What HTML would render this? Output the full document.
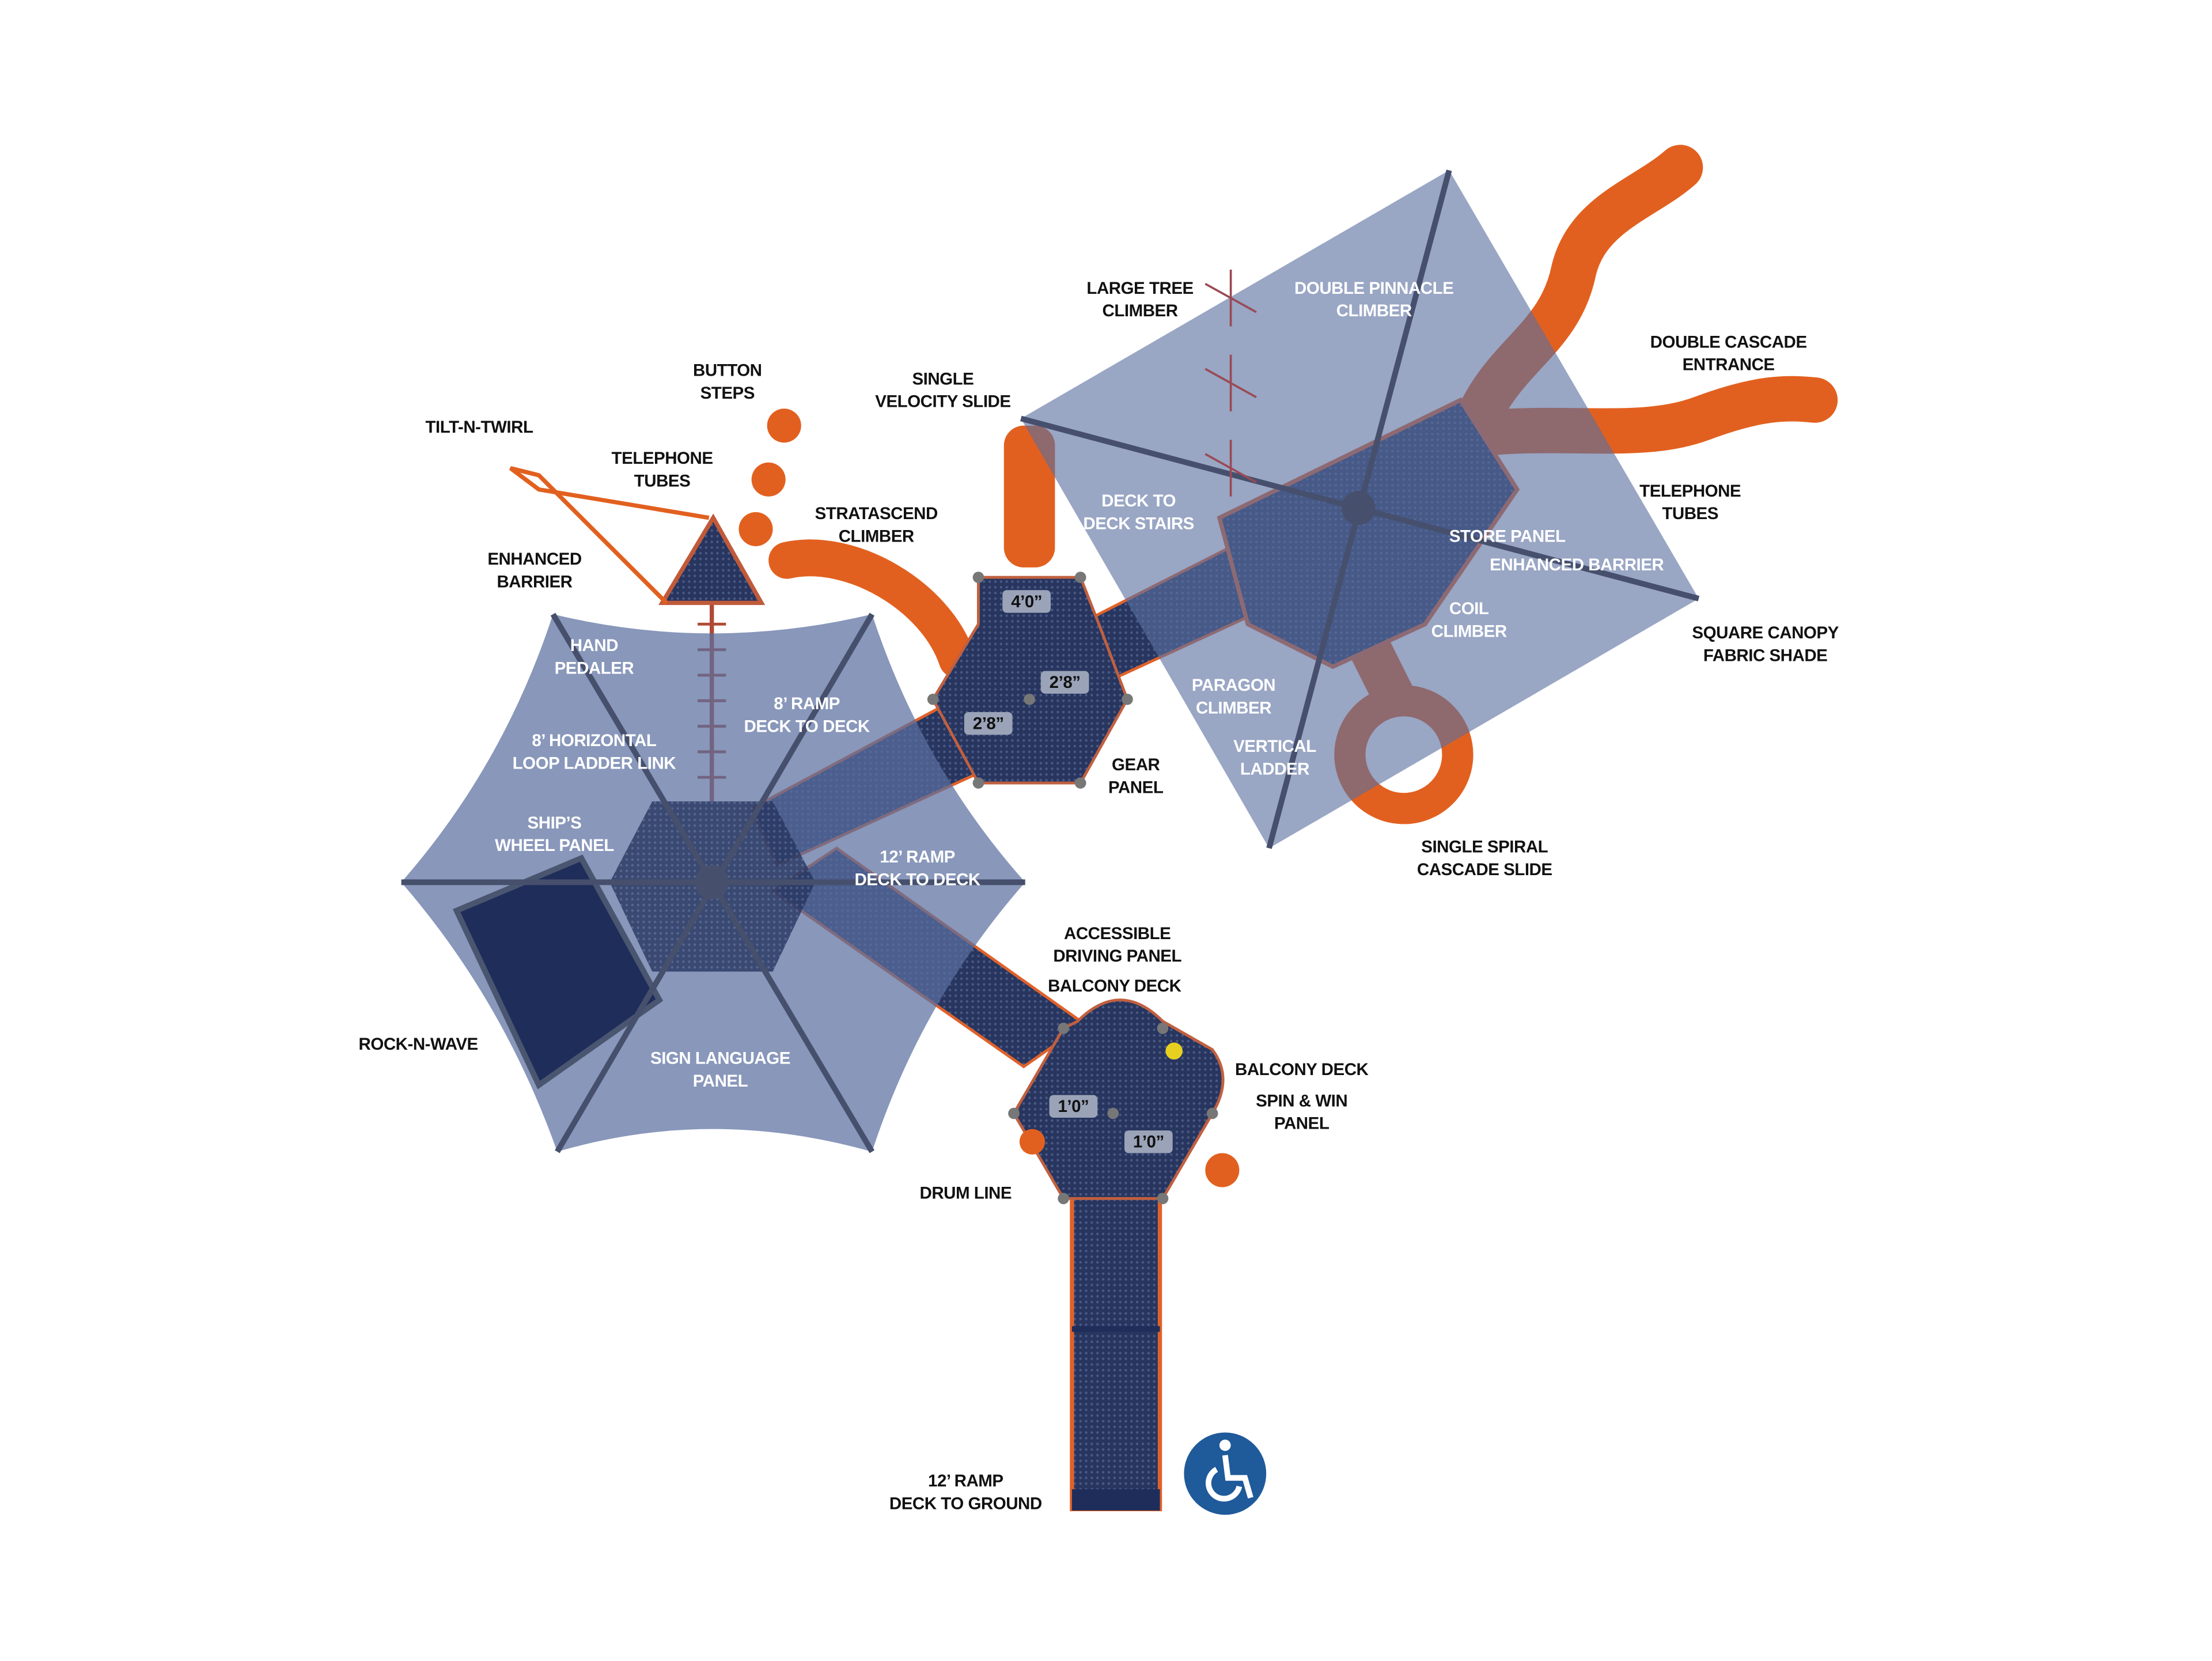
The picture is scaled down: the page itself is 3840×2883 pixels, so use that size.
<!DOCTYPE html>
<html><head><meta charset="utf-8"><style>
html,body{margin:0;padding:0;background:#fff;}
svg{display:block;}
text{font-family:"Liberation Sans",sans-serif;font-weight:bold;font-size:12px;text-anchor:middle;letter-spacing:-0.2px;}
.b{fill:#111;} .w{fill:#fff;}
</style></head><body>
<svg width="3840" height="2883" viewBox="0 0 1560 1171" xmlns="http://www.w3.org/2000/svg">
<defs>
<pattern id="dots" width="4" height="4" patternUnits="userSpaceOnUse"><rect width="4" height="4" fill="#27355f"/><circle cx="2" cy="2" r="0.9" fill="#4a5a85"/></pattern>
</defs>
<rect width="1560" height="1171" fill="#fff"/>

<!-- ramp to ground -->
<rect x="756" y="842" width="62" height="222" fill="url(#dots)" stroke="#e0622a" stroke-width="3"/>
<rect x="756" y="935" width="62" height="4" fill="#1f2d5a"/>
<rect x="756" y="1050" width="62" height="15" fill="#1f2d5a"/>
<!-- 12' ramp deck to deck (lower) -->
<polygon points="545,628 590,598 765,722 722,752" fill="url(#dots)" stroke="#e0622a" stroke-width="2"/>
<!-- 8' ramp -->
<polygon points="530,570 670,495 690,545 548,610" fill="url(#dots)" stroke="#e0622a" stroke-width="2"/>
<!-- deck to deck stairs -->
<polygon points="765,438 875,382 895,428 782,480" fill="url(#dots)" stroke="#e0622a" stroke-width="2"/>
<!-- ladder link -->
<line x1="502" y1="420" x2="502" y2="565" stroke="#b04a35" stroke-width="3"/>
<g stroke="#b04a35" stroke-width="2">
<line x1="492" y1="440" x2="512" y2="440"/><line x1="492" y1="458" x2="512" y2="458"/><line x1="492" y1="476" x2="512" y2="476"/><line x1="492" y1="494" x2="512" y2="494"/><line x1="492" y1="512" x2="512" y2="512"/><line x1="492" y1="530" x2="512" y2="530"/><line x1="492" y1="548" x2="512" y2="548"/></g>

<!-- slides -->
<path d="M1040,300 C1060,250 1100,240 1110,190 C1120,150 1160,140 1185,118" stroke="#e2601f" stroke-width="32" fill="none" stroke-linecap="round"/>
<path d="M1050,305 C1110,300 1160,310 1200,295 C1240,280 1260,280 1280,282" stroke="#e2601f" stroke-width="32" fill="none" stroke-linecap="round"/>
<circle cx="990" cy="532" r="38" fill="none" stroke="#e2601f" stroke-width="22"/>
<path d="M965,455 L985,495" stroke="#e2601f" stroke-width="30"/>
<rect x="708" y="300" width="36" height="100" rx="14" fill="#e2601f"/>
<path d="M555,395 C600,385 660,420 675,465" stroke="#e2601f" stroke-width="26" fill="none" stroke-linecap="round"/>

<!-- big deck right -->
<polygon points="860,365 1030,282 1070,345 1005,440 940,470 880,440" fill="url(#dots)" stroke="#e0622a" stroke-width="3"/>

<!-- square canopy -->
<polygon points="1022,120 1198,422 895,598 720,295" fill="#5a6f9f" fill-opacity="0.62"/>
<g stroke="#46506d" stroke-width="4"><line x1="1022" y1="120" x2="895" y2="598"/><line x1="720" y1="295" x2="1198" y2="422"/></g>
<circle cx="958" cy="358" r="12" fill="#46506d"/>
<g stroke="#9a4a55" stroke-width="1.5"><line x1="868" y1="190" x2="868" y2="230"/><line x1="850" y1="200" x2="886" y2="220"/><line x1="868" y1="250" x2="868" y2="290"/><line x1="850" y1="260" x2="886" y2="280"/><line x1="868" y1="310" x2="868" y2="350"/><line x1="850" y1="320" x2="886" y2="340"/></g>

<!-- hex decks middle -->
<polygon points="690,407 762,407 775,440 795,493 762,552 690,552 658,493 690,440" fill="url(#dots)" stroke="#c06040" stroke-width="2"/>
<g fill="#777"><circle cx="690" cy="407" r="4"/><circle cx="762" cy="407" r="4"/><circle cx="795" cy="493" r="4"/><circle cx="762" cy="552" r="4"/><circle cx="690" cy="552" r="4"/><circle cx="658" cy="493" r="4"/><circle cx="726" cy="493" r="4"/></g>

<!-- hex canopy left -->
<path d="M390,433 Q502,460 615,433 Q650,540 723,622 Q650,705 615,812 Q502,780 393,812 Q355,705 283,622 Q355,540 390,433Z" fill="#5a6f9f" fill-opacity="0.72"/>
<polygon points="460,565 545,565 575,622 545,685 460,685 430,622" fill="url(#dots)" fill-opacity="0.8"/>
<polygon points="322,642 410,605 465,705 380,765" fill="#1f2d5a" stroke="#4a5570" stroke-width="4"/>
<g stroke="#46506d" stroke-width="4"><line x1="390" y1="433" x2="615" y2="812"/><line x1="615" y1="433" x2="393" y2="812"/><line x1="283" y1="622" x2="723" y2="622"/></g>
<circle cx="502" cy="622" r="12" fill="#46506d"/>

<!-- telephone triangle -->
<polygon points="503,365 537,425 467,425" fill="url(#dots)" stroke="#c05a3a" stroke-width="3"/>
<path d="M470,425 L380,335 L360,330 L380,345 L500,365" stroke="#e2601f" stroke-width="3" fill="none"/>
<!-- button steps -->
<circle cx="553" cy="300" r="12" fill="#e2601f"/><circle cx="542" cy="338" r="12" fill="#e2601f"/><circle cx="533" cy="373" r="12" fill="#e2601f"/>
<circle cx="862" cy="825" r="12" fill="#e2601f"/>

<!-- lower hex deck -->
<path d="M760,720 Q790,690 820,720 L855,740 Q870,760 855,785 L855,785 L820,845 L750,845 L715,785 L750,725Z" fill="url(#dots)" stroke="#c06040" stroke-width="2"/>
<g fill="#777"><circle cx="750" cy="725" r="4"/><circle cx="820" cy="725" r="4"/><circle cx="855" cy="785" r="4"/><circle cx="820" cy="845" r="4"/><circle cx="750" cy="845" r="4"/><circle cx="715" cy="785" r="4"/><circle cx="785" cy="785" r="4"/></g>
<circle cx="828" cy="741" r="6" fill="#e8d020"/>
<circle cx="728" cy="805" r="9" fill="#e2601f"/>

<!-- height tags -->
<g fill="#9aa3b8"><rect x="707" y="416" width="34" height="16" rx="3"/><rect x="734" y="473" width="34" height="16" rx="3"/><rect x="680" y="502" width="34" height="16" rx="3"/><rect x="740" y="772" width="34" height="16" rx="3"/><rect x="793" y="797" width="34" height="16" rx="3"/></g>
<g class="b" font-size="11"><text x="724" y="428">4’0”</text><text x="751" y="485">2’8”</text><text x="697" y="514">2’8”</text><text x="757" y="784">1’0”</text><text x="810" y="809">1’0”</text></g>

<!-- accessible icon -->
<circle cx="864" cy="1039" r="29" fill="#1f5a9a"/>
<path d="M858,1036 A11,11 0 1 0 874,1048" fill="none" stroke="#fff" stroke-width="4"/>
<path d="M864,1026 L866,1042 L878,1042 L882,1056" fill="none" stroke="#fff" stroke-width="4"/>
<circle cx="864" cy="1019" r="4" fill="#fff"/>

<!-- labels -->
<g class="b">
<text x="804" y="207">LARGE TREE</text><text x="804" y="223">CLIMBER</text>
<text x="513" y="265">BUTTON</text><text x="513" y="281">STEPS</text>
<text x="665" y="271">SINGLE</text><text x="665" y="287">VELOCITY SLIDE</text>
<text x="1219" y="245">DOUBLE CASCADE</text><text x="1219" y="261">ENTRANCE</text>
<text x="338" y="305">TILT-N-TWIRL</text>
<text x="467" y="327">TELEPHONE</text><text x="467" y="343">TUBES</text>
<text x="618" y="366">STRATASCEND</text><text x="618" y="382">CLIMBER</text>
<text x="1192" y="350">TELEPHONE</text><text x="1192" y="366">TUBES</text>
<text x="377" y="398">ENHANCED</text><text x="377" y="414">BARRIER</text>
<text x="1245" y="450">SQUARE CANOPY</text><text x="1245" y="466">FABRIC SHADE</text>
<text x="801" y="543">GEAR</text><text x="801" y="559">PANEL</text>
<text x="1047" y="601">SINGLE SPIRAL</text><text x="1047" y="617">CASCADE SLIDE</text>
<text x="788" y="662">ACCESSIBLE</text><text x="788" y="678">DRIVING PANEL</text>
<text x="786" y="699">BALCONY DECK</text>
<text x="295" y="740">ROCK-N-WAVE</text>
<text x="918" y="758">BALCONY DECK</text>
<text x="918" y="780">SPIN &amp; WIN</text><text x="918" y="796">PANEL</text>
<text x="681" y="845">DRUM LINE</text>
<text x="681" y="1048">12’ RAMP</text><text x="681" y="1064">DECK TO GROUND</text>
</g>
<g class="w">
<text x="969" y="207">DOUBLE PINNACLE</text><text x="969" y="223">CLIMBER</text>
<text x="803" y="357">DECK TO</text><text x="803" y="373">DECK STAIRS</text>
<text x="1063" y="382">STORE PANEL</text>
<text x="1112" y="402">ENHANCED BARRIER</text>
<text x="1036" y="433">COIL</text><text x="1036" y="449">CLIMBER</text>
<text x="419" y="459">HAND</text><text x="419" y="475">PEDALER</text>
<text x="870" y="487">PARAGON</text><text x="870" y="503">CLIMBER</text>
<text x="569" y="500">8’ RAMP</text><text x="569" y="516">DECK TO DECK</text>
<text x="419" y="526">8’ HORIZONTAL</text><text x="419" y="542">LOOP LADDER LINK</text>
<text x="899" y="530">VERTICAL</text><text x="899" y="546">LADDER</text>
<text x="391" y="584">SHIP’S</text><text x="391" y="600">WHEEL PANEL</text>
<text x="647" y="608">12’ RAMP</text><text x="647" y="624">DECK TO DECK</text>
<text x="508" y="750">SIGN LANGUAGE</text><text x="508" y="766">PANEL</text>
</g>
</svg>
</body></html>
